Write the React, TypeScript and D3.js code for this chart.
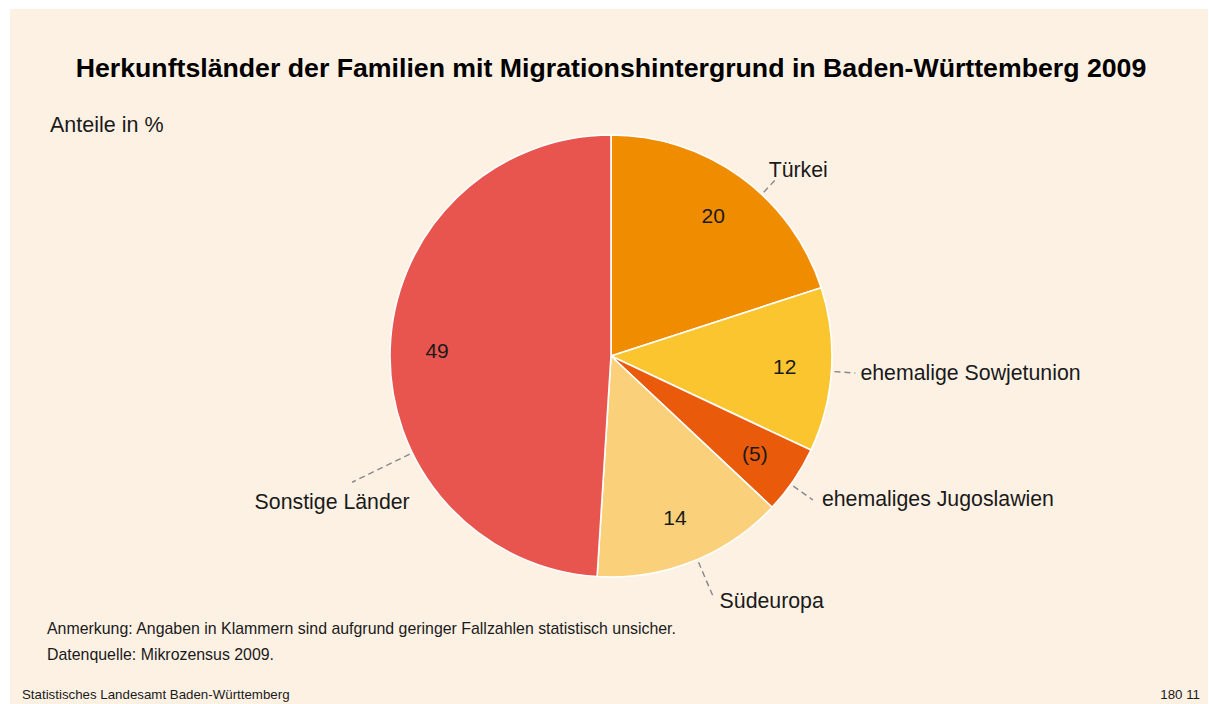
import React, { useEffect, useRef } from 'react';
import * as d3 from 'd3';

// Anteile in %, im Uhrzeigersinn ab 12 Uhr
const categories = ['Türkei', 'ehemalige Sowjetunion', 'ehemaliges Jugoslawien', 'Südeuropa', 'Sonstige Länder'];
const values = [20, 12, 5, 14, 49];
const valueLabels = ['20', '12', '(5)', '14', '49'];
const colors = ['#f08c00', '#fbc52f', '#ea5a0b', '#fbd07a', '#e8554e'];

const title = 'Herkunftsländer der Familien mit Migrationshintergrund in Baden-Württemberg 2009';
const unitLabel = 'Anteile in %';
const notes = [
  'Anmerkung: Angaben in Klammern sind aufgrund geringer Fallzahlen statistisch unsicher.',
  'Datenquelle: Mikrozensus 2009.',
];
const source = 'Statistisches Landesamt Baden-Württemberg';
const chartId = '180 11';

// leader line layout: angle (deg), length, text offset, anchor
const leaders = [
  { angle: 43, len: 16, dx: -6, dy: -3, anchor: 'start' },
  { angle: 94, len: 21, dx: 5, dy: 7, anchor: 'start' },
  { angle: 125.5, len: 24, dx: 9, dy: 6, anchor: 'start' },
  { angle: 157, len: 36, dx: 7, dy: 13, anchor: 'start' },
  { angle: 244, len: 64, dx: -20, dy: 27, anchor: 'middle' },
];

export default function App() {
  const svgRef = useRef<SVGSVGElement>(null);

  useEffect(() => {
    const svg = d3.select(svgRef.current);
    svg.selectAll('*').remove();
    const W = 1209, H = 704;
    const cx = 611, cy = 356, R = 221, labelR = 174;
    const font = '"Liberation Sans", Arial, sans-serif';
    const ink = '#1a1a1a';

    svg.append('rect').attr('x', 10).attr('y', 9).attr('width', W - 11).attr('height', H - 9).attr('fill', '#fdf1e4');

    svg.append('text').attr('x', 611).attr('y', 77).attr('text-anchor', 'middle')
      .attr('font-family', font).attr('font-weight', 'bold').attr('font-size', 26.7).attr('fill', '#000').text(title);
    svg.append('text').attr('x', 50).attr('y', 132).attr('font-family', font).attr('font-size', 21.5).attr('fill', ink).text(unitLabel);

    const pie = d3.pie<number>().sort(null).value(d => d);
    const arcs = pie(values);
    const arc = d3.arc<d3.PieArcDatum<number>>().innerRadius(0).outerRadius(R);
    const labelArc = d3.arc<d3.PieArcDatum<number>>().innerRadius(labelR).outerRadius(labelR);

    const g = svg.append('g').attr('transform', `translate(${cx},${cy})`);
    g.selectAll('path.slice').data(arcs).enter().append('path')
      .attr('class', 'slice')
      .attr('d', arc)
      .attr('fill', (_, i) => colors[i])
      .attr('stroke', '#fff').attr('stroke-width', 1.6).attr('stroke-linejoin', 'round');

    g.selectAll('text.val').data(arcs).enter().append('text')
      .attr('class', 'val')
      .attr('x', d => labelArc.centroid(d)[0]).attr('y', d => labelArc.centroid(d)[1])
      .attr('dy', '0.35em').attr('text-anchor', 'middle')
      .attr('font-family', font).attr('font-size', 21).attr('fill', ink)
      .text((_, i) => valueLabels[i]);

    const pt = (deg: number, r: number) => {
      const a = (deg * Math.PI) / 180;
      return [r * Math.sin(a), -r * Math.cos(a)];
    };

    leaders.forEach((l, i) => {
      const [x1, y1] = pt(l.angle, R + 3);
      const [x2, y2] = pt(l.angle, R + 3 + l.len);
      g.append('line').attr('x1', x1).attr('y1', y1).attr('x2', x2).attr('y2', y2)
        .attr('stroke', '#888').attr('stroke-width', 1.4).attr('stroke-dasharray', '6,4');
      g.append('text').attr('x', x2 + l.dx).attr('y', y2 + l.dy).attr('text-anchor', l.anchor)
        .attr('font-family', font).attr('font-size', 21.3).attr('fill', ink).text(categories[i]);
    });

    notes.forEach((n, i) => {
      svg.append('text').attr('x', 47).attr('y', 634 + i * 26).attr('font-family', font)
        .attr('font-size', 15.9).attr('fill', ink).text(n);
    });
    svg.append('text').attr('x', 22).attr('y', 699).attr('font-family', font).attr('font-size', 13.3).attr('fill', ink).text(source);
    svg.append('text').attr('x', 1200).attr('y', 699).attr('text-anchor', 'end').attr('font-family', font).attr('font-size', 13.3).attr('fill', ink).text(chartId);
  }, []);

  return (
    <svg ref={svgRef} width={1209} height={704} viewBox="0 0 1209 704"
      style={{ position: 'absolute', left: 0, top: 0, display: 'block' }} />
  );
}
